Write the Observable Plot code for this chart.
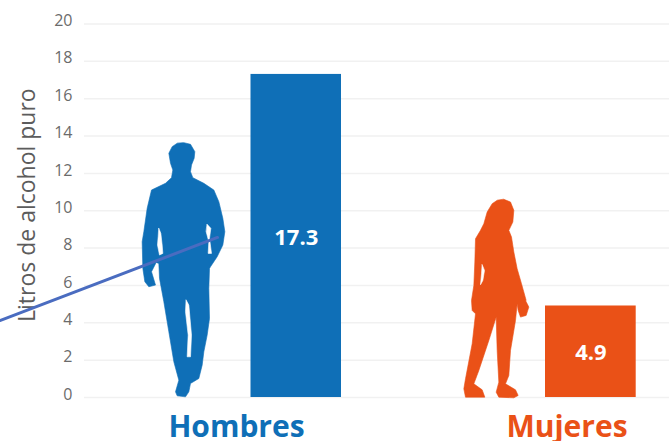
<!DOCTYPE html>
<html><head><meta charset="utf-8">
<script src="https://cdn.jsdelivr.net/npm/d3@7"></script>
<script src="https://cdn.jsdelivr.net/npm/@observablehq/plot@0.6"></script>
<style>html,body{margin:0;padding:0;background:#fff}svg{display:block}</style>
</head><body><div id="chart"></div>
<script>
const categories = ["Hombres", "Mujeres"];
const litros = [17.3, 4.9];
const valueLabelAt = [8.52, 2.36];
const colors = ["#0f6fb7", "#ea5117"];
const barStart = [250.5, 545];
const barEnd = [341, 635.7];
const labelCenter = [236, 566.5];
const yTicks = [0,2,4,6,8,10,12,14,16,18,20];
const axisTitle = "Litros de alcohol puro";

// Silhouette outlines: [x, litres]
const Y0 = 397, K = 18.66;
const trace = (ox, oy) => p => p.map(([x,y]) => [x/3+ox, (Y0-(y/3+oy))/K]);
const mU = trace(135,138), mL = trace(135,268), wU = trace(455,195), wL = trace(455,300);
const manOutline = [
  ...mU([[145,13],[165,18],[178,40],[176,60],[168,80],[165,100],[172,118],[205,135],[235,155],[250,190],[262,240],[268,280],[262,320],[245,355],[225,385]]),
  ...mL([[222,0],[220,60],[222,150],[215,200],[205,250],[200,290],[190,330],[165,345],[160,370],[150,385],[125,382],[120,370],[130,335],[115,280],[100,190],[85,100],[72,30]]),
  ...mU([[70,375],[62,372]]),
  ...mL([[48,10],[60,50],[40,55],[28,40],[22,0]]),
  ...mU([[20,310],[25,280],[35,210],[48,155],[90,135],[108,118],[112,95],[105,75],[100,45],[110,25],[125,15]])
];
const manGaps = [
  mU([[70,270],[76,285],[80,320],[82,345],[72,350],[66,320],[68,295]]),
  mU([[215,258],[226,270],[222,300],[228,345],[218,345],[220,310],[212,280]]),
  mL([[152,95],[160,110],[168,200],[165,265],[155,265],[158,200],[150,130]])
];
const womanOutline = [
  ...wU([[145,12],[165,20],[175,45],[172,80],[160,105],[168,125],[175,170],[185,220],[198,265],[212,315]]),
  ...wL([[210,0],[220,20],[212,45],[195,50],[188,30],[185,10],[180,60],[165,150],[160,225],[150,250],[180,268],[188,285],[175,292],[130,290],[122,275],[130,245],[125,150],[122,50],[100,120],[70,210],[55,250],[80,268],[88,290],[30,290],[25,265],[30,235],[50,130],[60,40],[50,30],[48,0]]),
  ...wU([[55,270],[58,200],[60,130],[75,105],[85,85],[95,50],[110,25],[125,15]])
];
const womanGap = wU([[80,208],[87,225],[82,255],[75,268],[78,235]]);
const pointerX = [0, 217];
const pointerY = [4.13, 8.57];

const bars = categories.map((c,i)=>({c, v:litros[i], x1:barStart[i], x2:barEnd[i], color:colors[i], lx:labelCenter[i], ly:valueLabelAt[i]}));
const sharp = (pts, fill) => Plot.line(pts, {x:d=>d[0], y:d=>d[1], fill, stroke:fill, strokeWidth:0.6, curve:"linear-closed"});

const chart = Plot.plot({
  width:669, height:441,
  marginLeft:84, marginRight:0, marginTop:23.5, marginBottom:44,
  style:{fontFamily:"'Open Sans'", background:"#fff"},
  x:{domain:[84,669], range:[84,669], axis:null},
  y:{domain:[0,20], axis:null},
  marks:[
    Plot.ruleY(yTicks,{stroke:"#f1f1f1", strokeWidth:1.5}),
    Plot.axisY({ticks:yTicks, tickSize:0, tickPadding:10, label:null, fontSize:16, color:"#6b6b6b", dx:-2, dy:-3, tickFormat:d=>d}),
    Plot.text([axisTitle],{x:[27], y:[10.3], rotate:-90, fontSize:23, fill:"#5c5c5c"}),
    Plot.rectY(bars,{x1:"x1", x2:"x2", y1:0, y2:"v", fill:"color"}),
    Plot.text(bars,{x:d=>(d.x1+d.x2)/2, y:"ly", text:d=>d.v.toFixed(1), fill:"#fff", fontSize:22, fontWeight:700}),
    Plot.text(bars,{x:"lx", y:-1.6, text:"c", fill:"color", fontSize:30, fontWeight:700}),
    sharp(manOutline, colors[0]),
    ...manGaps.map(g=>sharp(g,"#fff")),
    sharp(womanOutline, colors[1]),
    sharp(womanGap,"#fff"),
    Plot.line(pointerX.map((x,i)=>({x,y:pointerY[i]})),{x:"x",y:"y",stroke:"#4a6cc0",strokeWidth:3})
  ]
});
document.getElementById("chart").append(chart);
</script></body></html>
